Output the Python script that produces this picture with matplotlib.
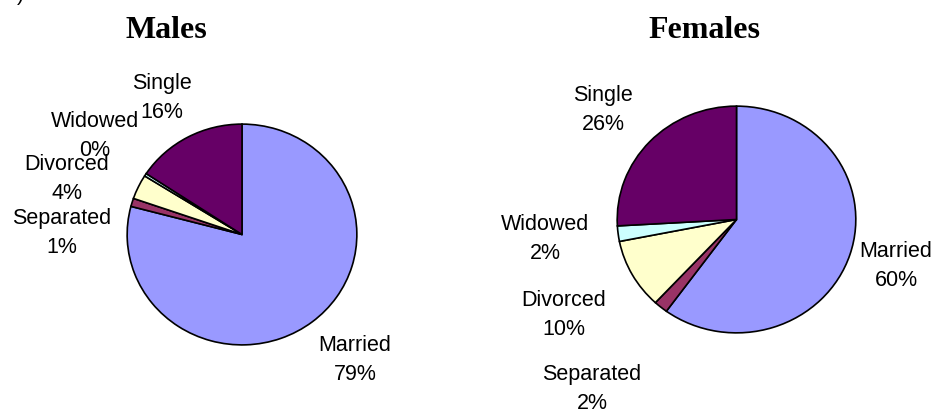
import matplotlib
matplotlib.use("Agg")
import matplotlib.pyplot as plt

# data
categories = ["Married", "Separated", "Divorced", "Widowed", "Single"]
males = [79.1, 1.2, 3.6, 0.4, 15.7]
females = [60.0, 1.9, 10.0, 2.2, 25.9]
colors = ["#9999FF", "#993366", "#FFFFCC", "#CCFFFF", "#660066"]

# label block centres (pixels from top-left) for each category
male_label_pos = [(355, 360), (62, 233), (67, 179), (95, 136), (162, 98)]
female_label_pos = [(896, 266), (592, 389), (564, 315), (545, 239), (603, 110)]

W, H = 933, 412
fig = plt.figure(figsize=(W / 100, H / 100), dpi=100)


def px_axes(left, top, right, bottom):
    return fig.add_axes([left / W, 1 - bottom / H, (right - left) / W, (bottom - top) / H])


def draw_pie(ax, values):
    ax.pie(values, colors=colors, startangle=90, counterclock=False,
           wedgeprops=dict(edgecolor="black", linewidth=1.2))
    ax.set_aspect("auto")
    ax.set_xlim(-1.01, 1.01)
    ax.set_ylim(-1.01, 1.01)
    ax.axis("off")


def draw_labels(values, positions):
    for name, v, (x, y) in zip(categories, values, positions):
        fig.text(x / W, 1 - y / H, "%s\n%.0f%%" % (name, v), ha="center", va="center",
                 fontsize=15.5, family="Liberation Sans", linespacing=1.55)


ax1 = px_axes(126, 123, 358, 346)
draw_pie(ax1, males)
draw_labels(males, male_label_pos)

ax2 = px_axes(616, 105, 857, 334)
draw_pie(ax2, females)
draw_labels(females, female_label_pos)

# titles
fig.text(166 / W, 1 - 30 / H, "Males", ha="center", va="center", fontsize=23,
         family="Liberation Serif", fontweight="bold")
fig.text(704 / W, 1 - 30 / H, "Females", ha="center", va="center", fontsize=23,
         family="Liberation Serif", fontweight="bold")

# cut-off panel letter at top left
fig.text(17 / W, 1 - 1 / H, ")", ha="left", va="baseline", fontsize=15, family="Liberation Sans")

fig.savefig("out.png", dpi=100, facecolor="white")
